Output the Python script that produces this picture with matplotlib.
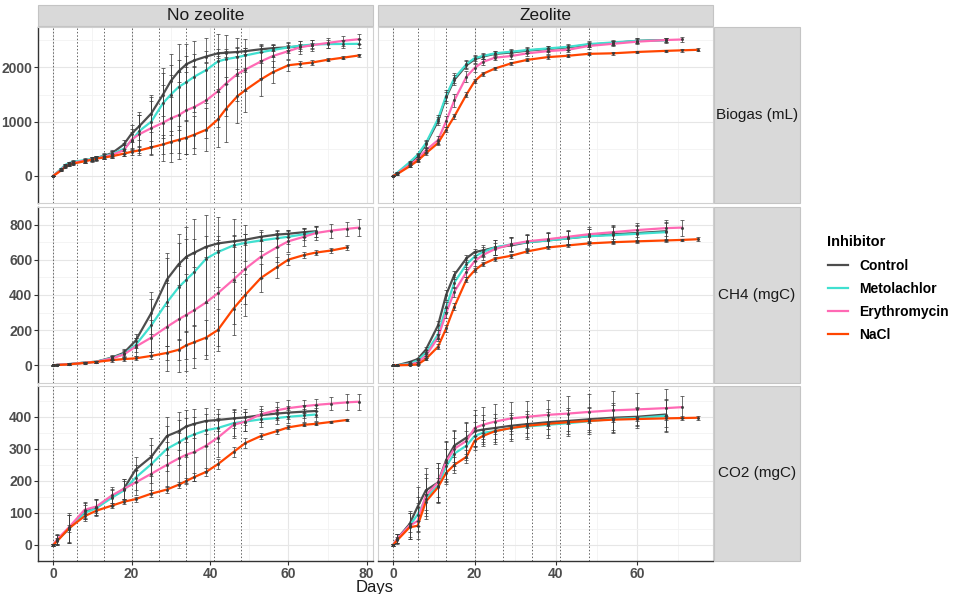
import matplotlib
matplotlib.use('Agg')
import matplotlib.pyplot as plt
from matplotlib.lines import Line2D
from matplotlib.patches import Rectangle

plt.rcParams['font.family'] = ['Liberation Sans', 'DejaVu Sans']

treatments = ['Control', 'Metolachlor', 'Erythromycin', 'NaCl']
colors = ['#4d4d4d', '#40e0d0', '#ff69b4', '#ff4500']
zeolite_labels = ['No zeolite', 'Zeolite']
variable_labels = ['Biogas (mL)', 'CH4 (mgC)', 'CO2 (mgC)']
sampling_days = [0, 6, 13, 20, 27, 34, 41, 48]

# --- No zeolite ---
bio_noz_days = [0, 2, 3, 4, 5, 8, 10, 11, 13, 15, 18, 20, 22, 25, 28, 30, 32, 34, 36, 39,
                42, 44, 47, 49, 53, 56, 60, 63, 66, 70, 74, 78]
bio_noz_control = [0, 120, 190, 225, 250, 280, 310, 330, 370, 420, 580, 780, 920, 1150, 1500,
                   1750, 1930, 2060, 2130, 2200, 2260, 2270, 2285, 2300, 2335, 2355, 2370, 2390, 2410]
bio_noz_control_sd = [5, 20, 25, 30, 30, 35, 40, 40, 45, 60, 90, 150, 250, 350, 400, 300, 200,
                      150, 120, 100, 80, 70, 70, 60, 60, 55, 50, 50, 45]
bio_noz_metol = [0, 130, 200, 235, 260, 290, 315, 335, 365, 400, 500, 650, 830, 1000, 1340, 1500,
                 1640, 1730, 1830, 1950, 2110, 2150, 2190, 2220, 2280, 2320, 2370, 2400, 2420,
                 2430, 2432, 2435]
bio_noz_metol_sd = [5, 20, 25, 30, 30, 35, 40, 40, 45, 60, 100, 150, 300, 450, 650, 750, 800, 700,
                    650, 600, 500, 450, 350, 300, 150, 120, 100, 90, 80, 80, 80, 80]
bio_noz_eryth = [0, 110, 180, 215, 240, 280, 300, 320, 350, 390, 470, 670, 770, 880, 980, 1060,
                 1120, 1210, 1270, 1390, 1560, 1700, 1880, 1960, 2110, 2210, 2300, 2370, 2410,
                 2450, 2490, 2520]
bio_noz_eryth_sd = [5, 20, 25, 30, 30, 35, 40, 40, 45, 60, 100, 200, 350, 500, 700, 800, 800, 800,
                    750, 700, 650, 600, 500, 400, 300, 200, 150, 120, 100, 90, 90, 90]
bio_noz_nacl = [0, 100, 160, 195, 225, 270, 300, 320, 340, 362, 410, 445, 470, 525, 580, 625, 665,
                705, 760, 850, 1040, 1230, 1470, 1580, 1780, 1910, 2040, 2065, 2090, 2140, 2180, 2220]
bio_noz_nacl_sd = [5, 15, 20, 20, 20, 25, 25, 30, 30, 35, 50, 60, 80, 120, 180, 200, 250, 300, 350,
                   400, 500, 600, 500, 400, 300, 200, 100, 60, 40, 30, 30, 30]

noz_days = [0, 1, 4, 8, 11, 15, 18, 21, 25, 29, 32, 34, 36, 39, 42, 46, 49, 53, 57, 60, 64, 67,
            71, 75, 78]
ch4_noz_control = [0, 3, 7, 16, 21, 45, 71, 140, 297, 488, 575, 618, 641, 674, 693, 705, 714, 731,
                   743, 748, 757, 762]
ch4_noz_control_sd = [2, 3, 4, 5, 6, 12, 20, 40, 120, 150, 120, 100, 80, 60, 40, 35, 30, 25, 20,
                      20, 25, 30]
ch4_noz_metol = [0, 3, 7, 16, 21, 42, 65, 115, 227, 358, 444, 488, 531, 606, 644, 682, 696, 710,
                 722, 731, 745, 757]
ch4_noz_metol_sd = [2, 3, 4, 5, 6, 12, 20, 40, 150, 250, 300, 300, 300, 250, 200, 150, 100, 60, 50,
                    40, 30, 30]
ch4_noz_eryth = [0, 3, 7, 15, 20, 40, 62, 106, 158, 219, 262, 288, 314, 358, 410, 488, 549, 618,
                 670, 705, 731, 752, 766, 776, 783]
ch4_noz_eryth_sd = [2, 3, 4, 5, 6, 12, 20, 50, 100, 250, 300, 320, 330, 320, 300, 250, 200, 120,
                    80, 60, 50, 40, 40, 40, 50]
ch4_noz_nacl = [0, 2, 6, 14, 20, 30, 36, 40, 54, 71, 89, 115, 132, 158, 201, 323, 401, 497, 557,
                601, 627, 641, 653, 670]
ch4_noz_nacl_sd = [2, 2, 3, 4, 5, 8, 10, 12, 20, 40, 60, 80, 90, 100, 120, 150, 120, 80, 60, 30,
                   15, 15, 15, 15]

co2_noz_control = [0, 15, 50, 105, 117, 150, 175, 235, 275, 340, 355, 370, 378, 387, 390, 395, 398,
                   405, 410, 413, 416, 418]
co2_noz_control_sd = [3, 15, 45, 25, 25, 25, 30, 40, 60, 60, 60, 50, 45, 40, 35, 30, 25, 20, 20,
                      20, 20, 20]
co2_noz_metol = [0, 15, 50, 100, 115, 148, 170, 210, 252, 300, 320, 335, 345, 358, 365, 380, 385,
                 392, 396, 400, 404, 407]
co2_noz_metol_sd = [3, 15, 45, 25, 25, 25, 30, 40, 60, 70, 70, 60, 55, 50, 45, 40, 30, 25, 20, 20,
                    20, 20]
co2_noz_eryth = [0, 18, 55, 110, 120, 155, 175, 195, 222, 250, 270, 282, 290, 310, 335, 375, 385,
                 408, 420, 427, 433, 437, 441, 445, 447]
co2_noz_eryth_sd = [3, 15, 45, 25, 25, 25, 30, 40, 60, 70, 80, 90, 90, 80, 60, 40, 30, 25, 25, 25,
                    20, 20, 20, 25, 25]
co2_noz_nacl = [0, 12, 52, 90, 107, 123, 135, 143, 160, 173, 188, 200, 212, 228, 252, 290, 318,
                340, 355, 367, 375, 378, 384, 390]
co2_noz_nacl_sd = [3, 10, 10, 8, 8, 8, 8, 8, 10, 10, 10, 10, 12, 12, 15, 15, 15, 10, 8, 6, 5, 5,
                   4, 4]

# --- Zeolite ---
zeo_days = [0, 1, 4, 6, 8, 11, 13, 15, 18, 20, 22, 25, 29, 33, 38, 43, 48, 54, 60, 67, 71, 75]
bio_zeo_control = [0, 50, 230, 360, 580, 1010, 1450, 1770, 2040, 2150, 2200, 2250, 2275, 2310,
                   2340, 2370, 2420, 2450, 2490, 2505]
bio_zeo_control_sd = [5, 15, 30, 40, 60, 80, 100, 90, 70, 60, 50, 50, 50, 50, 50, 50, 50, 45, 45, 45]
bio_zeo_metol = [0, 60, 250, 390, 600, 1050, 1480, 1800, 2060, 2170, 2210, 2260, 2290, 2320, 2350,
                 2380, 2430, 2460, 2490, 2500]
bio_zeo_metol_sd = [5, 15, 30, 40, 60, 80, 100, 90, 70, 60, 50, 50, 50, 50, 50, 50, 50, 45, 45, 45]
bio_zeo_eryth = [0, 40, 200, 310, 470, 660, 1010, 1390, 1830, 1990, 2100, 2180, 2210, 2260, 2300,
                 2325, 2395, 2435, 2475, 2505, 2515]
bio_zeo_eryth_sd = [5, 15, 30, 40, 50, 70, 100, 120, 100, 80, 60, 50, 50, 50, 50, 50, 50, 45, 45,
                    45, 40]
bio_zeo_nacl = [0, 35, 175, 280, 415, 605, 850, 1095, 1500, 1745, 1880, 1980, 2075, 2140, 2190,
                2215, 2250, 2260, 2285, 2305, 2315, 2325]
bio_zeo_nacl_sd = [5, 10, 20, 25, 30, 40, 50, 50, 40, 35, 30, 30, 30, 30, 30, 30, 25, 25, 25, 25,
                   25, 25]

ch4_zeo_control = [0, 1, 19, 36, 89, 227, 401, 514, 609, 644, 653, 670, 682, 700, 710, 722, 734,
                   745, 752, 762]
ch4_zeo_control_sd = [1, 2, 5, 8, 15, 25, 30, 25, 20, 15, 30, 40, 40, 40, 40, 40, 40, 45, 45, 50]
ch4_zeo_metol = [0, 1, 10, 28, 71, 175, 332, 470, 575, 618, 644, 670, 688, 700, 710, 722, 734, 740,
                 748, 757]
ch4_zeo_metol_sd = [1, 2, 5, 8, 15, 25, 30, 30, 25, 25, 30, 40, 40, 40, 40, 40, 40, 45, 45, 50]
ch4_zeo_eryth = [0, 1, 5, 16, 54, 158, 297, 418, 531, 592, 627, 661, 688, 705, 717, 731, 745, 757,
                 769, 780, 783]
ch4_zeo_eryth_sd = [1, 2, 4, 6, 12, 20, 30, 30, 30, 25, 30, 35, 40, 40, 40, 40, 40, 40, 40, 45, 45]
ch4_zeo_nacl = [0, 1, 2, 5, 36, 106, 210, 332, 488, 540, 575, 606, 623, 648, 670, 682, 693, 700,
                705, 710, 713, 717]
ch4_zeo_nacl_sd = [1, 1, 2, 3, 8, 15, 20, 20, 15, 12, 10, 10, 10, 10, 8, 8, 8, 8, 8, 8, 8, 10]

co2_zeo_control = [0, 20, 65, 120, 170, 195, 265, 310, 335, 355, 360, 365, 372, 377, 383, 387, 392,
                   397, 400, 407]
co2_zeo_control_sd = [3, 15, 40, 60, 70, 60, 60, 50, 50, 50, 45, 45, 40, 40, 40, 40, 40, 45, 30, 50]
co2_zeo_metol = [0, 18, 60, 95, 145, 185, 245, 285, 310, 340, 350, 355, 365, 370, 375, 380, 386,
                 393, 396, 403]
co2_zeo_metol_sd = [3, 15, 40, 55, 65, 55, 55, 50, 45, 45, 40, 40, 40, 40, 40, 40, 40, 45, 30, 50]
co2_zeo_eryth = [0, 20, 60, 75, 155, 195, 260, 300, 325, 365, 375, 385, 395, 400, 406, 410, 415,
                 420, 423, 427, 430]
co2_zeo_eryth_sd = [3, 15, 40, 55, 65, 60, 60, 55, 55, 55, 55, 55, 50, 50, 45, 55, 55, 60, 50, 60, 35]
co2_zeo_nacl = [0, 15, 55, 60, 135, 180, 225, 250, 275, 325, 340, 355, 365, 372, 378, 383, 387, 391,
                393, 395, 396, 397]
co2_zeo_nacl_sd = [3, 10, 15, 15, 25, 30, 30, 25, 20, 15, 10, 10, 8, 8, 6, 6, 6, 6, 6, 6, 6, 6]

# panel table: (row, col) -> days, list of (mean, sd) per treatment
panels = {
    (0, 0): (bio_noz_days, [(bio_noz_control, bio_noz_control_sd), (bio_noz_metol, bio_noz_metol_sd),
                            (bio_noz_eryth, bio_noz_eryth_sd), (bio_noz_nacl, bio_noz_nacl_sd)]),
    (1, 0): (noz_days, [(ch4_noz_control, ch4_noz_control_sd), (ch4_noz_metol, ch4_noz_metol_sd),
                        (ch4_noz_eryth, ch4_noz_eryth_sd), (ch4_noz_nacl, ch4_noz_nacl_sd)]),
    (2, 0): (noz_days, [(co2_noz_control, co2_noz_control_sd), (co2_noz_metol, co2_noz_metol_sd),
                        (co2_noz_eryth, co2_noz_eryth_sd), (co2_noz_nacl, co2_noz_nacl_sd)]),
    (0, 1): (zeo_days, [(bio_zeo_control, bio_zeo_control_sd), (bio_zeo_metol, bio_zeo_metol_sd),
                        (bio_zeo_eryth, bio_zeo_eryth_sd), (bio_zeo_nacl, bio_zeo_nacl_sd)]),
    (1, 1): (zeo_days, [(ch4_zeo_control, ch4_zeo_control_sd), (ch4_zeo_metol, ch4_zeo_metol_sd),
                        (ch4_zeo_eryth, ch4_zeo_eryth_sd), (ch4_zeo_nacl, ch4_zeo_nacl_sd)]),
    (2, 1): (zeo_days, [(co2_zeo_control, co2_zeo_control_sd), (co2_zeo_metol, co2_zeo_metol_sd),
                        (co2_zeo_eryth, co2_zeo_eryth_sd), (co2_zeo_nacl, co2_zeo_nacl_sd)]),
}

y_ticks = [[0, 1000, 2000], [0, 200, 400, 600, 800], [0, 100, 200, 300, 400]]
y_lims = [(-125, 2745), (-45, 870), (-32, 496)]
x_lims = [(-3.9, 81.6), (-3.75, 78.6)]
x_ticks = [[0, 20, 40, 60, 80], [0, 20, 40, 60]]

W, H = 958, 594
col_x = [(38, 373), (378, 713)]
row_y = [(27, 203), (207, 383), (386, 561)]


def rect(x0, y0, x1, y1):
    return [x0 / W, 1 - y1 / H, (x1 - x0) / W, (y1 - y0) / H]


fig = plt.figure(figsize=(W / 100, H / 100), dpi=100)
fig.patch.set_facecolor('white')

for (r, c), (days, series) in panels.items():
    ax = fig.add_axes(rect(col_x[c][0], row_y[r][0], col_x[c][1], row_y[r][1]))
    ax.set_xlim(*x_lims[c])
    ax.set_ylim(*y_lims[r])
    ax.set_yticks(y_ticks[r])
    ax.set_xticks(x_ticks[c])
    yt = y_ticks[r]
    step = yt[1] - yt[0]
    ax.set_yticks([v + step / 2 for v in yt] + [yt[0] - step / 2], minor=True)
    ax.set_xticks([10, 30, 50, 70], minor=True)
    ax.grid(True, which='major', color='#e6e6e6', lw=0.8, zorder=0)
    ax.grid(True, which='minor', color='#f2f2f2', lw=0.6, zorder=0)
    ax.set_axisbelow(True)
    for d in sampling_days:
        ax.axvline(d, color='#666666', ls=(0, (1.5, 2)), lw=0.7, zorder=1)

    for (mean, sd), col in zip(series, colors):
        d = days[:len(mean)]
        ax.plot(d, mean, color=col, lw=1.6, zorder=3)
        ax.errorbar(d, mean, yerr=sd, fmt='o', ms=1.2, color='#3a3a3a', ecolor='#3a3a3a',
                    elinewidth=0.6, capsize=1.5, capthick=0.6, alpha=0.85, zorder=4)

    for s in ax.spines.values():
        s.set_color('#d0d0d0')
        s.set_linewidth(0.8)
    if c == 0:
        ax.spines['left'].set_color('#333333')
        ax.spines['left'].set_linewidth(1.0)
    if r == 2:
        ax.spines['bottom'].set_color('#333333')
        ax.spines['bottom'].set_linewidth(1.0)
    ax.tick_params(which='minor', length=0)
    ax.tick_params(which='major', length=3, color='#333333', labelsize=10,
                   labelcolor='#4d4d4d', pad=1.0)
    ax.tick_params(axis='y', left=(c == 0), labelleft=(c == 0))
    ax.tick_params(axis='x', bottom=(r == 2), labelbottom=(r == 2))
    for lab in ax.get_xticklabels() + ax.get_yticklabels():
        lab.set_fontweight('bold')

# strips
for c, lab in enumerate(zeolite_labels):
    x0, x1 = col_x[c]
    fig.add_artist(Rectangle((x0 / W, 1 - 26 / H), (x1 - x0) / W, 21 / H,
                             transform=fig.transFigure, facecolor='#d9d9d9',
                             edgecolor='#c4c4c4', lw=0.8))
    fig.text((x0 + x1) / 2 / W, 1 - 15.5 / H, lab, ha='center', va='center',
             fontsize=12.5, color='#1a1a1a')
for r, lab in enumerate(variable_labels):
    y0, y1 = row_y[r]
    fig.add_artist(Rectangle((714 / W, 1 - y1 / H), 86 / W, (y1 - y0) / H,
                             transform=fig.transFigure, facecolor='#d9d9d9',
                             edgecolor='#c4c4c4', lw=0.8))
    fig.text(757 / W, 1 - (y0 + y1) / 2 / H, lab, ha='center', va='center',
             fontsize=11, color='#1a1a1a')

fig.text(375 / W, 1 - 587.5 / H, 'Days', ha='center', va='center', fontsize=12, color='#1a1a1a')

handles = [Line2D([], [], color=col, lw=1.6) for col in colors]
leg = fig.legend(handles, treatments, loc='upper left', bbox_to_anchor=(815 / W, 1 - 223 / H),
                 frameon=False, title='Inhibitor', handlelength=1.5, labelspacing=0.65,
                 prop={'weight': 'bold', 'size': 10},
                 title_fontproperties={'weight': 'bold', 'size': 10.5})
leg._legend_box.align = 'left'

fig.savefig('out.png', dpi=100, facecolor='white')
